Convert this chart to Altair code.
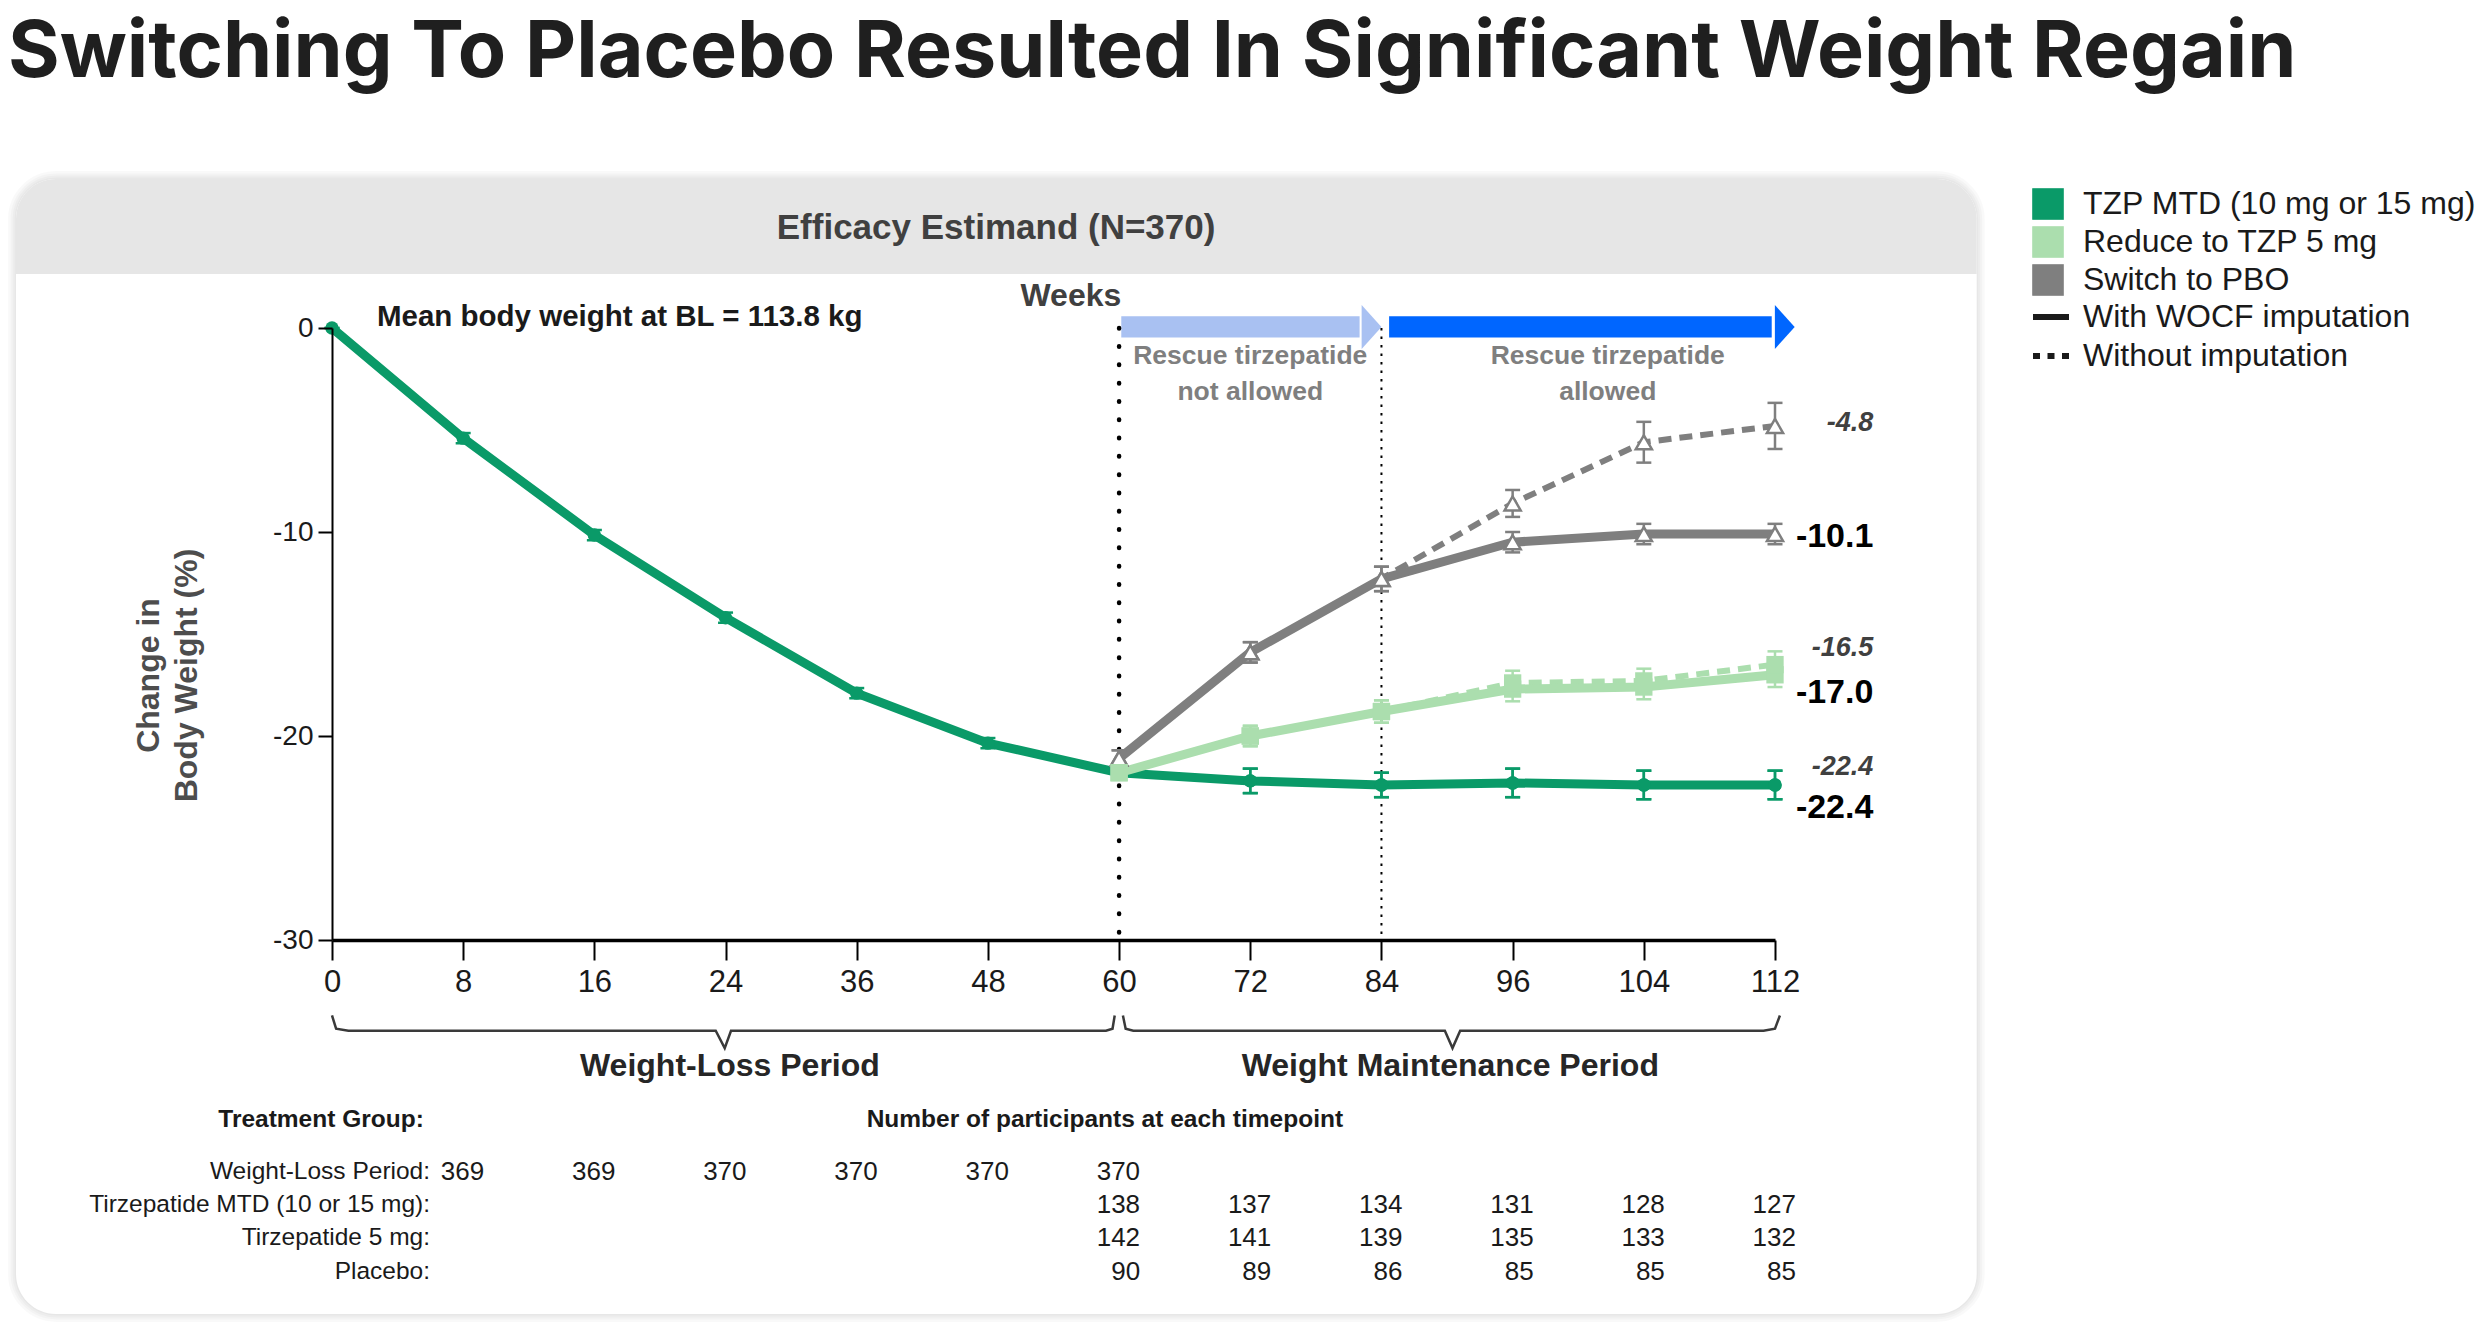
import altair as alt
import pandas as pd

# ---------------- data ----------------
weeks = [0, 8, 16, 24, 36, 48, 60, 72, 84, 96, 104, 112]
leadin_weeks = [0, 8, 16, 24, 36, 48, 60]
maint_weeks = [60, 72, 84, 96, 104, 112]

groups = ["TZP MTD (10 mg or 15 mg)", "Reduce to TZP 5 mg", "Switch to PBO"]
group_colors = ["#0a9a68", "#abdeae", "#7f7f7f"]
methods = ["With WOCF imputation", "Without imputation"]

# lead-in (all participants on tirzepatide MTD)
leadin_mean = [0.0, -5.4, -10.15, -14.2, -17.9, -20.35, -21.8]
leadin_se = [0.0, 0.25, 0.25, 0.25, 0.25, 0.25, 0.3]

# randomized maintenance period, weeks 60..112
mtd_wocf = [-21.8, -22.2, -22.4, -22.3, -22.4, -22.4]
mtd_wocf_se = [0.3, 0.6, 0.6, 0.7, 0.7, 0.7]
mtd_obs = [-21.8, -22.2, -22.4, -22.3, -22.4, -22.4]
mtd_obs_se = [0.3, 0.6, 0.6, 0.7, 0.7, 0.7]

tzp5_wocf = [-21.8, -20.0, -18.8, -17.7, -17.6, -17.0]
tzp5_wocf_se = [0.3, 0.5, 0.55, 0.6, 0.6, 0.6]
tzp5_obs = [-21.8, -20.0, -18.8, -17.4, -17.3, -16.5]
tzp5_obs_se = [0.3, 0.5, 0.55, 0.6, 0.6, 0.65]

pbo_wocf = [-21.1, -15.9, -12.3, -10.5, -10.1, -10.1]
pbo_wocf_se = [0.4, 0.5, 0.6, 0.5, 0.5, 0.5]
pbo_obs = [-21.1, -15.9, -12.3, -8.6, -5.6, -4.8]
pbo_obs_se = [0.4, 0.5, 0.6, 0.66, 1.0, 1.13]

# participants at each timepoint
table_labels = ["Weight-Loss Period:", "Tirzepatide MTD (10 or 15 mg):",
                "Tirzepatide 5 mg:", "Placebo:"]
n_leadin_weeks = [8, 16, 24, 36, 48, 60]
n_leadin = [369, 369, 370, 370, 370, 370]
n_mtd = [138, 137, 134, 131, 128, 127]
n_tzp5 = [142, 141, 139, 135, 133, 132]
n_pbo = [90, 89, 86, 85, 85, 85]

# ---------------- tables ----------------
series = [
    (groups[0], methods[0], leadin_weeks + maint_weeks[1:], leadin_mean + mtd_wocf[1:], leadin_se + mtd_wocf_se[1:]),
    (groups[0], methods[1], maint_weeks, mtd_obs, mtd_obs_se),
    (groups[1], methods[0], maint_weeks, tzp5_wocf, tzp5_wocf_se),
    (groups[1], methods[1], maint_weeks, tzp5_obs, tzp5_obs_se),
    (groups[2], methods[0], maint_weeks, pbo_wocf, pbo_wocf_se),
    (groups[2], methods[1], maint_weeks, pbo_obs, pbo_obs_se),
]
rows = []
for sid, (g, m, wk, vals, ses) in enumerate(series):
    for w, v, s in zip(wk, vals, ses):
        rows.append(dict(series=sid, group=g, method=m, week=w, value=v, lo=v - s, hi=v + s))
df = pd.DataFrame(rows)

count_rows = []
for i, (wk, ns) in enumerate([(n_leadin_weeks, n_leadin), (maint_weeks, n_mtd),
                              (maint_weeks, n_tzp5), (maint_weeks, n_pbo)]):
    for w, n in zip(wk, ns):
        count_rows.append(dict(row=i, week=w, n=str(n)))
counts = pd.DataFrame(count_rows)

# ---------------- scales, axes & helpers ----------------
SANS = "Liberation Sans, Arial, Helvetica, sans-serif"
NARROW = "Liberation Sans Narrow, Arial Narrow, Liberation Sans, sans-serif"
TITLE_FONT = "Inter, Lato, Liberation Sans, sans-serif"

W, H = 1443, 612
STEP = W / (len(weeks) - 1)
xs = alt.Scale(domain=weeks, range=[i * STEP for i in range(len(weeks))], nice=False, zero=False)
ys = alt.Scale(domain=[-30, 0], nice=False, zero=False)
color_scale = alt.Scale(domain=groups, range=group_colors)
# the key shows the "without imputation" style as a dotted stroke
dash_scale = alt.Scale(domain=methods, range=[[1, 0], [7, 7.5]])
DASH = [13, 8]

x_axis = alt.Axis(values=weeks, title=None, labelFont=NARROW, labelFontSize=31, labelColor="#1a1a1a",
                  labelPadding=7, tickSize=20, tickWidth=2, tickColor="#000", domainColor="#000",
                  domainWidth=3.5, grid=False, labelFlush=False, labelOverlap=False, labelAngle=0,
                  zindex=1)
y_axis = alt.Axis(values=[0, -10, -20, -30], labelExpr="datum.value + ''",
                  title=["Change in", "Body Weight (%)"],
                  labelFont=SANS, labelFontSize=28, labelColor="#1a1a1a", labelPadding=5, tickSize=14,
                  tickWidth=2, tickColor="#000", domainColor="#000", domainWidth=2, grid=False, zindex=1,
                  titleAngle=270, titleX=-184, titleY=347, titleAlign="center", titleBaseline="middle",
                  titleFont=SANS, titleFontSize=32, titleFontWeight="bold", titleColor="#4d4d4d",
                  titleLineHeight=38)


def X(field="x"):
    return alt.X(f"{field}:Q", scale=xs, axis=x_axis)


def Y(field="y"):
    return alt.Y(f"{field}:Q", scale=ys, axis=y_axis)


def texts(items, **kw):
    d = pd.DataFrame(items, columns=["x", "y", "text"])
    return alt.Chart(d).mark_text(**kw).encode(x=X(), y=Y(), text="text:N")


def box(x, x2, y, y2, **kw):
    d = pd.DataFrame([dict(x=x, x2=x2, y=y, y2=y2)])
    return alt.Chart(d).mark_rect(**kw).encode(x=X(), x2="x2:Q", y=Y(), y2="y2:Q")


def path(points, **kw):
    d = pd.DataFrame([dict(x=a, y=b, i=k) for k, (a, b) in enumerate(points)])
    return alt.Chart(d).mark_line(**kw).encode(x=X(), y=Y(), order="i:Q")


layers = []

# ---------------- card background ----------------
CARD = dict(x=-19.27, x2=124.3, y=7.30, y2=-48.33)
for w in [16, 11, 7, 3]:
    layers.append(box(**CARD, fill="white", fillOpacity=0, stroke="#000000",
                      strokeOpacity=0.022, strokeWidth=w, cornerRadius=40))
layers.append(box(**CARD, color="white", cornerRadius=40))
layers.append(box(CARD["x"], CARD["x2"], CARD["y"], 2.65, color="#e6e6e6",
                  cornerRadiusTopLeft=40, cornerRadiusTopRight=40))
layers.append(texts([(48.75, 4.9, "Efficacy Estimand (N=370)")], font=SANS, fontSize=35,
                    fontWeight="bold", color="#404040"))

# headline
layers.append(texts([(-19.76, 12.3, "Switching To Placebo Resulted In Significant Weight Regain")],
                    align="left", baseline="alphabetic", font=TITLE_FONT, fontSize=79,
                    fontWeight="bold", color="#1f1f1f"))

# ---------------- rescue arrows ----------------
HEAD = "M-0.9,-1L0,0L-0.9,1Z"
for x0, x1, tip, col in [(60.2, 82.0, 84.0, "#a9c1f2"), (84.7, 111.8, 113.2, "#0066ff")]:
    layers.append(box(x0, x1, 0.57, -0.46, color=col))
    layers.append(alt.Chart(pd.DataFrame([dict(x=tip, y=0.05)])).mark_point(
        shape=HEAD, size=1936, filled=True, color=col, opacity=1, strokeWidth=0
    ).encode(x=X(), y=Y()))

layers.append(texts([(60.2, 1.57, "Weeks")], align="right", font=SANS, fontSize=32,
                    fontWeight="bold", color="#404040"))
layers.append(texts([(72.0, -1.35, "Rescue tirzepatide\nnot allowed"),
                     (101.8, -1.35, "Rescue tirzepatide\nallowed")],
                    font=SANS, fontSize=26.5, fontWeight="bold", color="#7f7f7f",
                    lineBreak="\n", lineHeight=36))
layers.append(texts([(2.74, 0.54, "Mean body weight at BL = 113.8 kg")], align="left",
                    font=SANS, fontSize=29.5, fontWeight="bold", color="#1a1a1a"))

# period separators
vl = pd.DataFrame([dict(x=60, y=0, y2=-30)])
layers.append(alt.Chart(vl).mark_rule(color="#000", strokeWidth=4.5, strokeCap="round",
                                      strokeDash=[0.5, 17.8]).encode(x=X(), y=Y(), y2="y2:Q"))
vl84 = pd.DataFrame([dict(x=84, y=0, y2=-30)])
layers.append(alt.Chart(vl84).mark_rule(color="#000", strokeWidth=2,
                                        strokeDash=[2.5, 6]).encode(x=X(), y=Y(), y2="y2:Q"))

# ---------------- period brackets ----------------
YT, YH, YB = -33.7, -34.45, -35.3
layers.append(path([(0, YT), (0.25, YH + 0.1), (1.0, YH), (23.4, YH), (23.95, YB), (24.5, YH),
                    (58.8, YH), (59.4, YH + 0.1), (59.6, YT)], color="#3a3a3a", strokeWidth=2.5))
layers.append(path([(60.35, YT), (60.6, YH + 0.1), (61.3, YH), (89.8, YH), (90.5, YB), (91.2, YH),
                    (111.3, YH), (112.0, YH + 0.1), (112.3, YT)], color="#3a3a3a", strokeWidth=2.5))
layers.append(texts([(24.4, -36.2, "Weight-Loss Period"), (90.3, -36.2, "Weight Maintenance Period")],
                    font=SANS, fontSize=32, fontWeight="bold", color="#262626"))

# ---------------- participant table ----------------
ROW_Y = [-41.37, -42.99, -44.61, -46.27]
layers.append(texts([(5.6, -38.84, "Treatment Group:")], align="right", font=NARROW,
                    fontSize=24.5, fontWeight="bold", color="#1a1a1a"))
layers.append(texts([(58.7, -38.84, "Number of participants at each timepoint")], font=NARROW,
                    fontSize=24.5, fontWeight="bold", color="#1a1a1a"))
layers.append(texts([(5.98, ROW_Y[i], t) for i, t in enumerate(table_labels)], align="right",
                    font=NARROW, fontSize=24.5, color="#1a1a1a"))
counts["y"] = [ROW_Y[r] for r in counts["row"]]
layers.append(alt.Chart(counts).mark_text(align="right", dx=21, font=NARROW, fontSize=26,
                                          color="#1a1a1a").encode(x=X("week"), y=Y("y"), text="n:N"))

# ---------------- data series ----------------
dash_legend = alt.Legend(
    title=None, orient="none", legendX=1698, legendY=-32, symbolType="stroke", symbolSize=1296,
    symbolStrokeWidth=6, symbolStrokeColor="#1a1a1a", labelFont=SANS, labelFontSize=32,
    labelColor="#1a1a1a", labelOffset=11, rowPadding=2, padding=0, labelLimit=0)
color_legend = alt.Legend(
    title=None, orient="none", legendX=1700, legendY=-140, symbolType="square", symbolSize=1000,
    symbolStrokeWidth=0, labelFont=SANS, labelFontSize=32, labelColor="#1a1a1a", labelOffset=19,
    rowPadding=6, padding=0, labelLimit=0)

# without imputation (dashed) beneath, with WOCF imputation (solid) on top
for k, (g, col) in enumerate(zip(groups, group_colors)):
    d = df[(df.group == g) & (df.method == methods[1])]
    enc = dict(x=X("week"), y=Y("value"), color=alt.value(col))
    if k == 0:
        enc["strokeDash"] = alt.StrokeDash("method:N", scale=dash_scale, legend=dash_legend)
    else:
        enc["strokeDash"] = alt.value(DASH)
    layers.append(alt.Chart(d).mark_line(strokeWidth=6).encode(**enc))
for g, col in zip(groups, group_colors):
    d = df[(df.group == g) & (df.method == methods[0])]
    layers.append(alt.Chart(d).mark_line(strokeWidth=9).encode(
        x=X("week"), y=Y("value"), color=alt.value(col)))

# error bars
for g, col in zip(groups, group_colors):
    d = df[df.group == g]
    layers.append(alt.Chart(d).mark_rule(strokeWidth=2.5, color=col).encode(
        x=X("week"), y=Y("lo"), y2="hi:Q"))
    layers.append(alt.Chart(d).transform_fold(["lo", "hi"], as_=["end", "cap"]).mark_tick(
        orient="horizontal", size=15, thickness=2.5, opacity=1, color=col).encode(
        x=X("week"), y=Y("cap")))

# markers
layers.append(alt.Chart(df[df.group == groups[2]]).mark_point(
    shape="triangle-up", size=260, filled=False, fill="white", stroke=group_colors[2],
    strokeWidth=2.5, opacity=1).encode(x=X("week"), y=Y("value")))
layers.append(alt.Chart(df[df.group == groups[0]]).mark_circle(
    size=180, opacity=1, color=group_colors[0]).encode(x=X("week"), y=Y("value")))
layers.append(alt.Chart(df[df.group == groups[1]]).mark_square(size=300, opacity=1).encode(
    x=X("week"), y=Y("value"),
    color=alt.Color("group:N", scale=color_scale, legend=color_legend)))

# ---------------- end-of-study values ----------------
LABEL_X = 118
end_labels = [
    (pbo_obs[-1], -3, True), (pbo_wocf[-1], 3, False),
    (tzp5_obs[-1], -16.6, True), (tzp5_wocf[-1], 18, False),
    (mtd_obs[-1], -18, True), (mtd_wocf[-1], 23, False),
]
for val, dy, italic in end_labels:
    d = pd.DataFrame([dict(x=LABEL_X, y=val, text=f"{val:.1f}")])
    if italic:
        mk = dict(fontSize=27, fontStyle="italic", color="#404040")
    else:
        mk = dict(fontSize=34, color="#000000")
    layers.append(alt.Chart(d).mark_text(align="right", dy=dy, font=SANS, fontWeight="bold", **mk)
                  .encode(x=X(), y=Y(), text="text:N"))

chart = alt.layer(*layers).properties(
    width=W, height=H,
    autosize=alt.AutoSizeParams(type="none"),
    padding={"left": 332, "top": 328, "right": 2480 - 332 - W, "bottom": 1324 - 328 - H},
    background="white",
).configure_view(stroke=None)

chart.save("out.html", embed_options={"renderer": "svg", "actions": False})
